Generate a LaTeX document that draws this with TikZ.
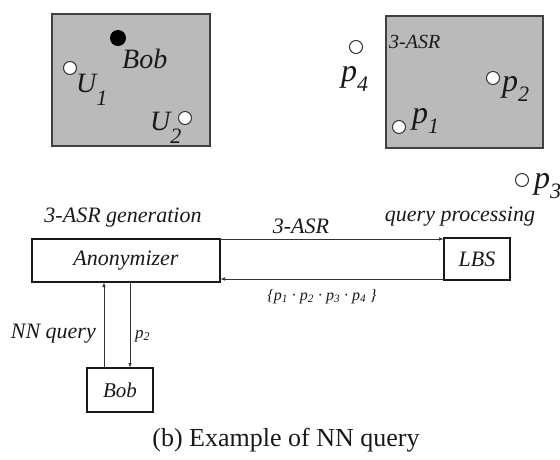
\documentclass[tikz,border=0pt]{standalone}
\usepackage{fontspec}
\setmainfont{Liberation Serif}
\usetikzlibrary{arrows.meta}
\newcommand{\fs}[1]{\fontsize{#1}{#1}\selectfont}
\newcommand{\bigp}[1]{{\fs{32}\itshape p}{\fs{22}\raisebox{-10pt}{\itshape #1}}}
\begin{document}
\begin{tikzpicture}[x=1pt,y=-1pt,
  region/.style={draw=black!75, line width=1.5pt, fill=black!27},
  pnt/.style={circle, draw=black!80, fill=white, line width=1pt, minimum size=13pt, inner sep=0pt},
  boxn/.style={draw=black!90, line width=2pt, inner sep=0pt, outer sep=0pt, font=\fs{22}\itshape, text=black!90},
  arr/.style={draw=black!80, line width=0.9pt, -{Latex[length=5pt,width=3.5pt]}},
  lab/.style={font=\fs{22}\itshape, text=black!90, inner sep=0pt, anchor=base},
  biglab/.style={text=black!90, inner sep=0pt, anchor=base west}]
\useasboundingbox (0,0) rectangle (560,459);
% left region
\draw[region] (52,14) rectangle (210,146);
\node[circle, fill=black, minimum size=16pt, inner sep=0pt] (bobdot) at (118,38) {};
\node[biglab, font=\fs{28}\itshape] (boblab) at (122,68) {Bob};
\node[pnt] (u1) at (70,68) {};
\node[biglab] (u1lab) at (76,92) {{\fs{28}\itshape U}{\fs{22}\raisebox{-13pt}{\itshape 1}}};
\node[pnt] (u2) at (185,118) {};
\node[biglab] (u2lab) at (150,130) {{\fs{28}\itshape U}{\fs{22}\raisebox{-13pt}{\itshape 2}}};
% right region
\draw[region] (386,16) rectangle (543,148);
\node[lab, anchor=base west, font=\fs{20}\itshape] (asr) at (389,48) {3-ASR};
\node[pnt] (p4) at (356,47) {};
\node[biglab] (p4lab) at (341,81) {\bigp{4}};
\node[pnt] (p2) at (493,78) {};
\node[biglab] (p2lab) at (502,91) {\bigp{2}};
\node[pnt] (p1) at (399,127) {};
\node[biglab] (p1lab) at (412,123) {\bigp{1}};
\node[pnt] (p3) at (522,180) {};
\node[biglab] (p3lab) at (534,188) {\bigp{3}};
% boxes
\node[boxn, minimum width=188pt, minimum height=43pt] (anon) at (126,260.5) {Anonymizer};
\node[boxn, minimum width=66pt, minimum height=42pt] (lbs) at (477,259) {LBS};
\node[boxn, minimum width=66pt, minimum height=44pt, font=\fs{21}\itshape] (bob) at (120,390) {Bob};
\node[lab] (gen) at (123,222) {3-ASR generation};
\node[lab] (qp) at (460,221) {query processing};
% connectors
\draw[arr] (anon.north east) -- (anon.north east -| lbs.west);
\node[lab] (asrlab) at (301,233) {3-ASR};
\draw[arr] ([yshift=1pt]lbs.south west) -- ([yshift=1pt]lbs.south west -| anon.east);
\node[lab, font=\fs{16}\itshape] (plist) at (322,300) {\{p\textsubscript{1} · p\textsubscript{2} · p\textsubscript{3} · p\textsubscript{4} \}};
\coordinate (lx) at (104,0);
\coordinate (rx) at (130,0);
\draw[arr] (bob.north -| lx) -- (anon.south -| lx);
\draw[arr] (anon.south -| rx) -- (bob.north -| rx);
\node[lab, anchor=base east] (nnq) at (96,338) {NN query};
\node[lab, anchor=base west, font=\fs{17}\itshape] (p2q) at (135,338) {p\textsubscript{2}};
% caption
\node[inner sep=0pt, anchor=base, font=\fs{26}, text=black!90] (cap) at (286,446) {(b) Example of NN query};
\end{tikzpicture}
\end{document}
